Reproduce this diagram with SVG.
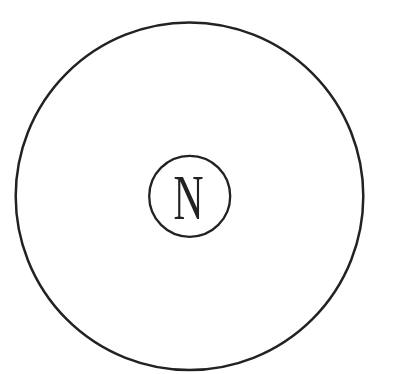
<svg xmlns="http://www.w3.org/2000/svg" width="403" height="374" viewBox="0 0 403 374">
<style>
.c{fill:none;stroke:#222;}
.t{font-family:"Liberation Serif",serif;font-size:63px;fill:#222;}
</style>
<rect width="403" height="374" fill="#fff"/>
<g id="outer"><circle class="c" cx="189.5" cy="196.3" r="173.8" stroke-width="2.5"/></g>
<g id="nucleus">
<circle class="c" cx="189.7" cy="196.3" r="40.5" stroke-width="2.3"/>
<text class="t" x="173.5" y="218.7" textLength="30" lengthAdjust="spacingAndGlyphs">N</text>
</g>
<g id="connectors"/>
</svg>
